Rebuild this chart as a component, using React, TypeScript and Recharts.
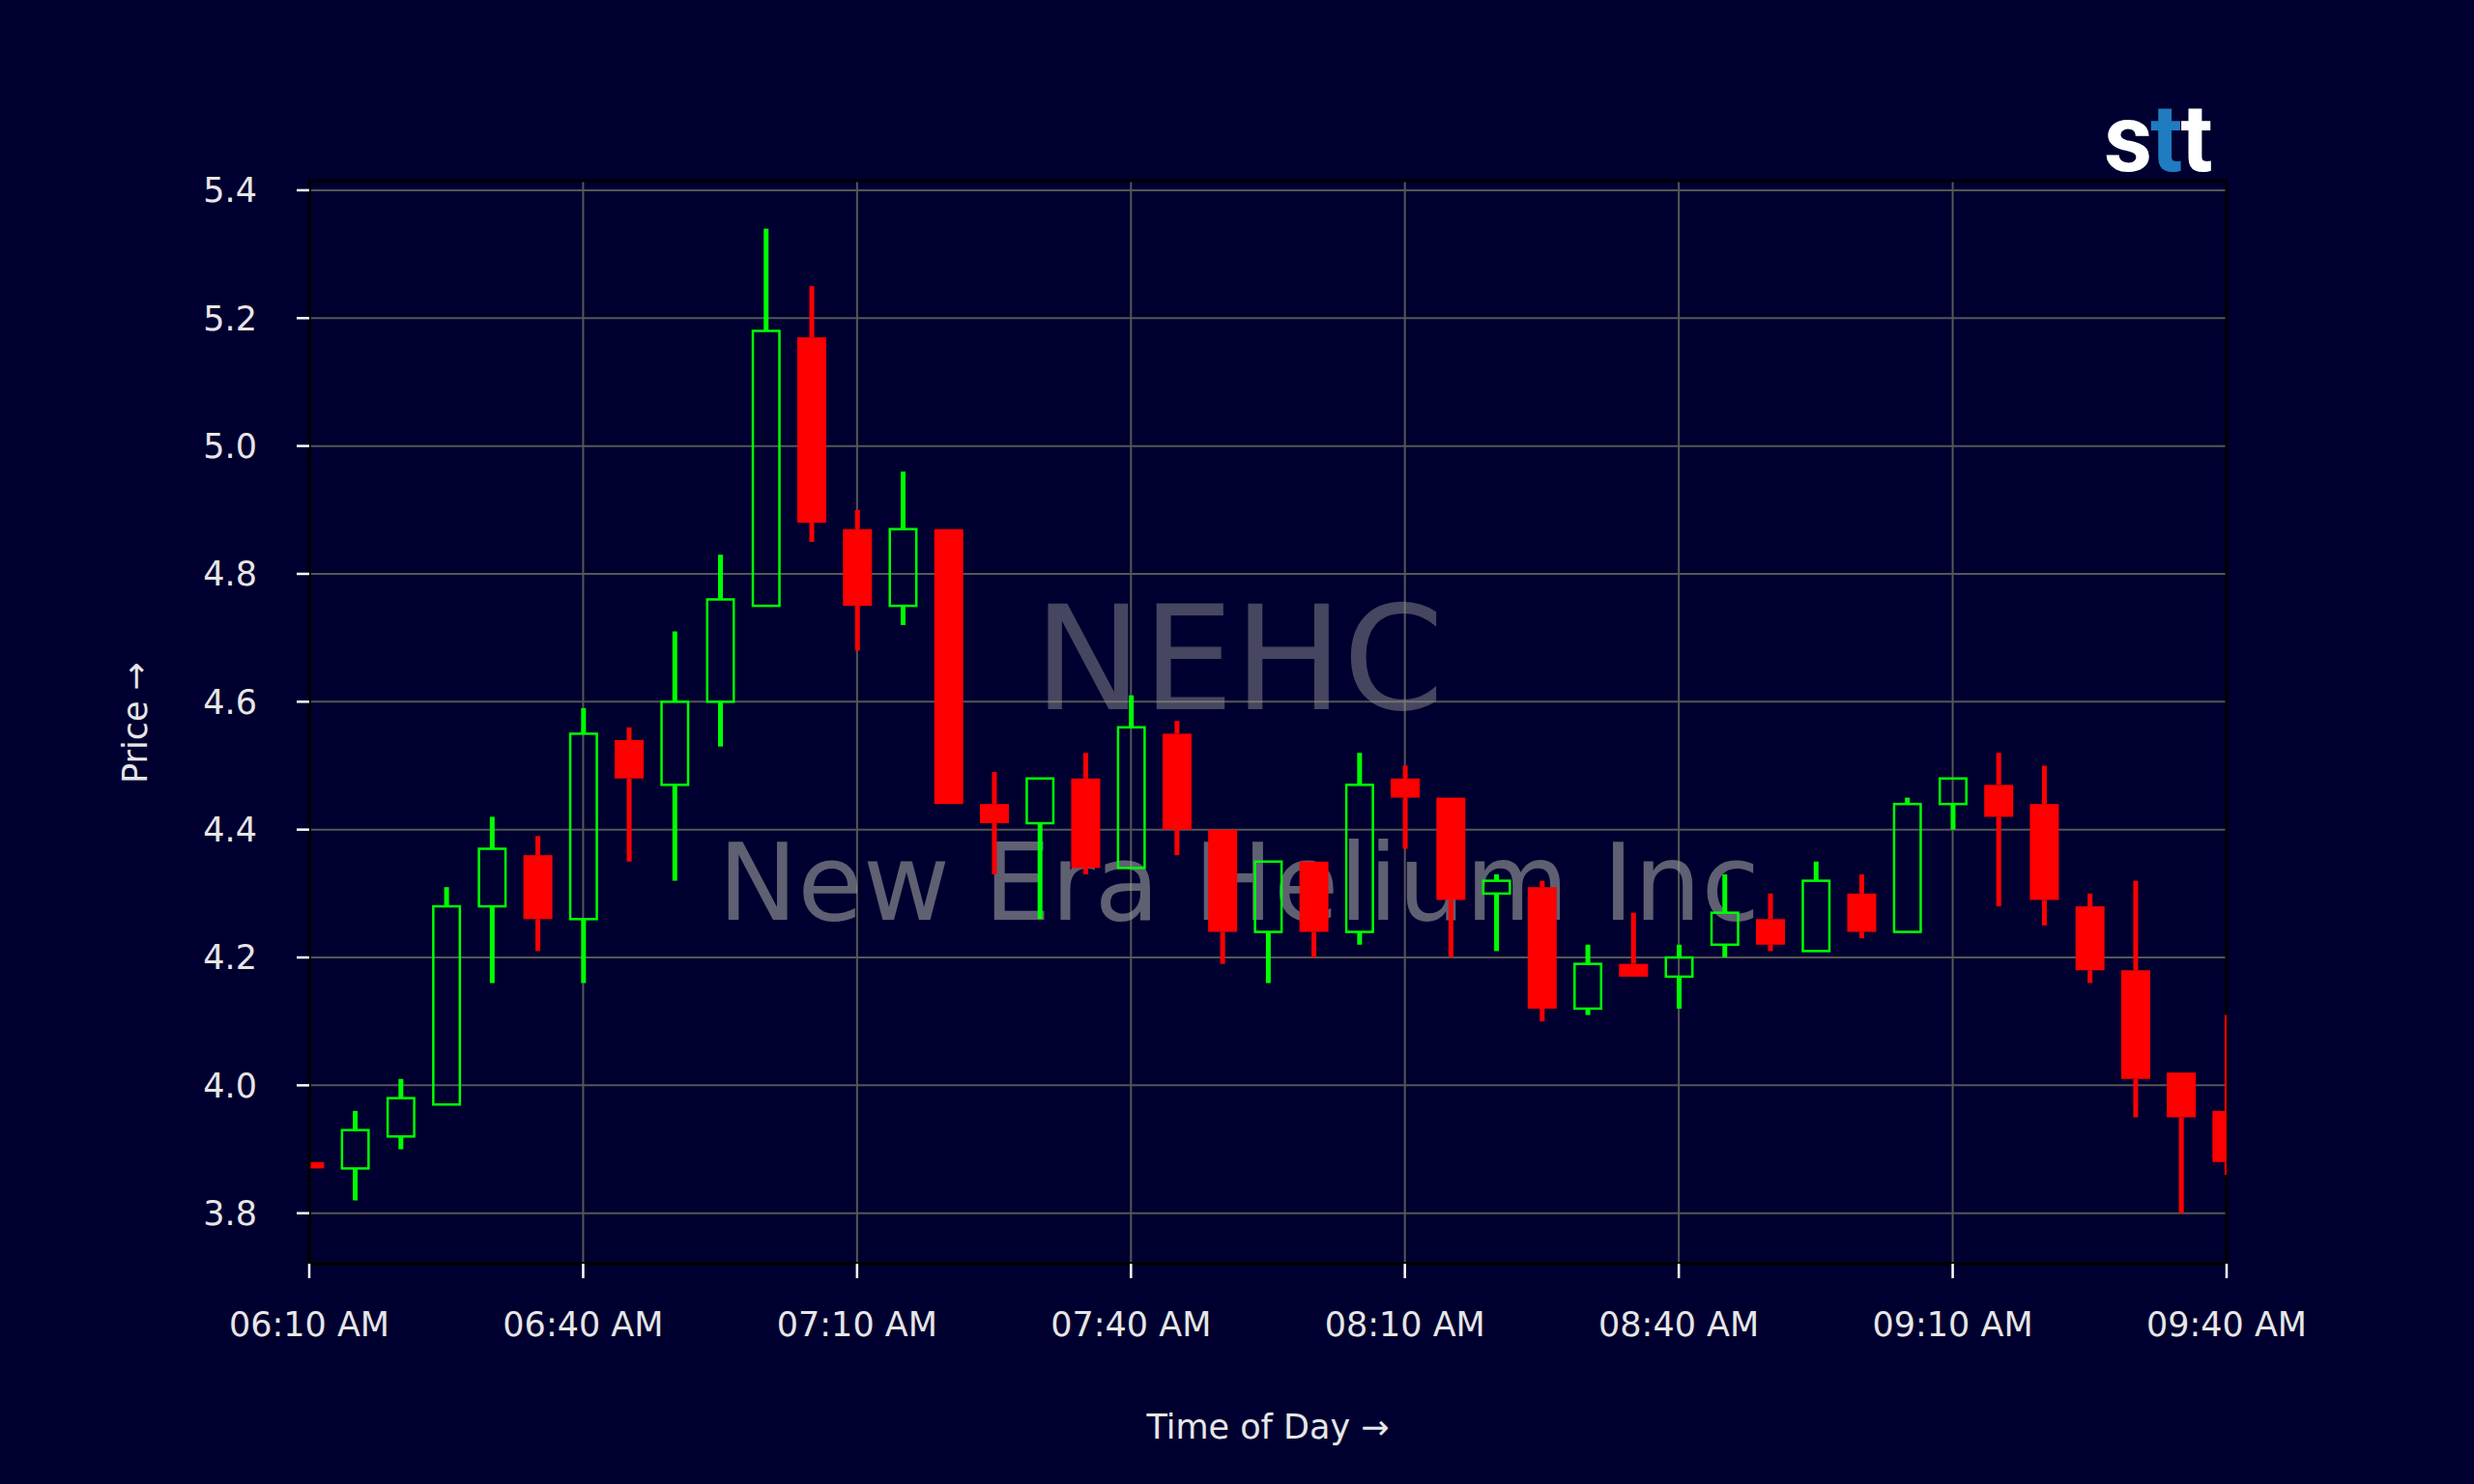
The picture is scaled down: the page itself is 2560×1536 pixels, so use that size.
import React from 'react';
import { ComposedChart, Bar, XAxis, YAxis, CartesianGrid, ReferenceArea } from 'recharts';

// 5-minute candles, NEHC
const times = [
  '06:10', '06:15', '06:20', '06:25', '06:30', '06:35', '06:40', '06:45', '06:50', '06:55',
  '07:00', '07:05', '07:10', '07:15', '07:20', '07:25', '07:30', '07:35', '07:40', '07:45',
  '07:50', '07:55', '08:00', '08:05', '08:10', '08:15', '08:20', '08:25', '08:30', '08:35',
  '08:40', '08:45', '08:50', '08:55', '09:00', '09:05', '09:10', '09:15', '09:20', '09:25',
  '09:30', '09:35', '09:40',
];
const opens = [
  3.88, 3.87, 3.92, 3.97, 4.28, 4.36, 4.26, 4.54, 4.47, 4.60,
  4.75, 5.17, 4.87, 4.75, 4.87, 4.44, 4.41, 4.48, 4.34, 4.55,
  4.40, 4.24, 4.35, 4.24, 4.48, 4.45, 4.30, 4.31, 4.12, 4.19,
  4.17, 4.22, 4.26, 4.21, 4.30, 4.24, 4.44, 4.47, 4.44, 4.28,
  4.18, 4.02, 3.96,
];
const highs = [
  3.88, 3.96, 4.01, 4.31, 4.42, 4.39, 4.59, 4.56, 4.71, 4.83,
  5.34, 5.25, 4.90, 4.96, 4.87, 4.49, 4.48, 4.52, 4.61, 4.57,
  4.40, 4.35, 4.35, 4.52, 4.50, 4.45, 4.33, 4.32, 4.22, 4.27,
  4.22, 4.33, 4.30, 4.35, 4.33, 4.45, 4.48, 4.52, 4.50, 4.30,
  4.32, 4.02, 4.11,
];
const lows = [
  3.87, 3.82, 3.90, 3.97, 4.16, 4.21, 4.16, 4.35, 4.32, 4.53,
  4.75, 4.85, 4.68, 4.72, 4.44, 4.33, 4.26, 4.33, 4.34, 4.36,
  4.19, 4.16, 4.20, 4.22, 4.37, 4.20, 4.21, 4.10, 4.11, 4.17,
  4.12, 4.20, 4.21, 4.21, 4.23, 4.24, 4.40, 4.28, 4.25, 4.16,
  3.95, 3.80, 3.86,
];
const closes = [
  3.87, 3.93, 3.98, 4.28, 4.37, 4.26, 4.55, 4.48, 4.60, 4.76,
  5.18, 4.88, 4.75, 4.87, 4.44, 4.41, 4.48, 4.34, 4.56, 4.40,
  4.24, 4.35, 4.24, 4.47, 4.45, 4.29, 4.32, 4.12, 4.19, 4.17,
  4.20, 4.27, 4.22, 4.32, 4.24, 4.44, 4.48, 4.42, 4.29, 4.18,
  4.01, 3.95, 3.88,
];

const xTicks = ['06:10', '06:40', '07:10', '07:40', '08:10', '08:40', '09:10', '09:40'];
const yTicks = [3.8, 4.0, 4.2, 4.4, 4.6, 4.8, 5.0, 5.2, 5.4];

const BG = '#000030';
const UP = '#00ff00';
const DOWN = '#ff0000';
const TEXT = '#e6e6e6';
const FONT = 'DejaVu Sans, sans-serif';

const toMin = (t: string) => {
  const [h, m] = t.split(':').map(Number);
  return h * 60 + m;
};

const fmtTime = (v: number) => {
  const h = Math.floor(v / 60);
  const m = v % 60;
  const hh = h % 12 === 0 ? 12 : h % 12;
  return `${String(hh).padStart(2, '0')}:${String(m).padStart(2, '0')} ${h < 12 ? 'AM' : 'PM'}`;
};

const data = times.map((t, i) => ({
  t: toMin(t),
  open: opens[i],
  high: highs[i],
  low: lows[i],
  close: closes[i],
}));

// body and wicks are placed from the bar's own [low, high] pixel range
function Candle(props: any) {
  const { x, y, width, height, payload } = props;
  if (x == null || y == null) return null;
  const { open, close, high, low } = payload;
  const top = Math.min(y, y + height);
  const h = Math.abs(height);
  const ratio = h / (high - low);
  const py = (v: number) => top + (high - v) * ratio;
  const cx = x + width / 2;
  const up = close >= open;
  const color = up ? UP : DOWN;
  const bTop = py(Math.max(open, close));
  const bBot = py(Math.min(open, close));
  const wick = 5;

  return (
    <g>
      {bTop > top + 0.5 && (
        <rect x={cx - wick / 2} y={top} width={wick} height={bTop - top} fill={color} />
      )}
      {top + h > bBot + 0.5 && (
        <rect x={cx - wick / 2} y={bBot} width={wick} height={top + h - bBot} fill={color} />
      )}
      {up ? (
        <rect
          x={x + 1.25}
          y={bTop}
          width={width - 2.5}
          height={Math.max(bBot - bTop, 1)}
          fill="none"
          stroke={color}
          strokeWidth={2.5}
        />
      ) : (
        <rect x={x} y={bTop} width={width} height={Math.max(bBot - bTop, 2)} fill={color} />
      )}
    </g>
  );
}

export default function App() {
  return (
    <div style={{ position: 'absolute', left: 0, top: 0, width: 2560, height: 1536, background: BG }}>
      <ComposedChart
        width={2560}
        height={1536}
        data={data}
        margin={{ top: 187, right: 256, bottom: 128, left: 0 }}
        style={{ background: BG }}
      >
        <CartesianGrid stroke="#565656" strokeWidth={2} />
        <XAxis
          dataKey="t"
          type="number"
          domain={[toMin('06:10'), toMin('09:40')]}
          allowDataOverflow
          ticks={xTicks.map(toMin)}
          tickFormatter={fmtTime}
          height={100}
          tickSize={15}
          tickMargin={35}
          axisLine={{ stroke: '#000', strokeWidth: 3 }}
          tickLine={{ stroke: '#fff', strokeWidth: 2.5 }}
          tick={{ fill: TEXT, fontSize: 35, fontFamily: FONT }}
        />
        <YAxis
          type="number"
          domain={[3.721, 5.415]}
          allowDataOverflow
          ticks={yTicks}
          tickFormatter={(v: number) => v.toFixed(1)}
          width={320}
          tickSize={13}
          tickMargin={41}
          axisLine={{ stroke: '#000', strokeWidth: 3 }}
          tickLine={{ stroke: '#fff', strokeWidth: 2.5 }}
          tick={{ fill: TEXT, fontSize: 35, fontFamily: FONT }}
        />
        <Bar
          dataKey={(d: any) => [d.low, d.high]}
          barSize={30}
          shape={<Candle />}
          isAnimationActive={false}
        />
        <ReferenceArea
          x1={toMin('06:10')}
          x2={toMin('09:40')}
          y1={3.721}
          y2={5.415}
          fill="none"
          stroke="#000"
          strokeWidth={3}
          ifOverflow="visible"
        />
        <text x={1282} y={734} textAnchor="middle" fontSize={150} fontFamily={FONT} fill="#999999" fillOpacity={0.46}>
          NEHC
        </text>
        <text x={1282} y={952} textAnchor="middle" fontSize={110} fontFamily={FONT} fill="#a0a0a0" fillOpacity={0.6}>
          New Era Helium Inc
        </text>
        <text x={1312} y={1489} textAnchor="middle" fontSize={35} fontFamily={FONT} fill={TEXT}>
          Time of Day →
        </text>
        <text
          x={152}
          y={748}
          textAnchor="middle"
          fontSize={35}
          fontFamily={FONT}
          fill={TEXT}
          transform="rotate(-90, 152, 748)"
        >
          Price →
        </text>
        <text x={2177} y={177} fontSize={98} fontWeight={700} fontFamily="Roboto, sans-serif" letterSpacing={-2}>
          <tspan fill="#ffffff">s</tspan>
          <tspan fill="#1f7cc1">t</tspan>
          <tspan fill="#ffffff">t</tspan>
        </text>
      </ComposedChart>
    </div>
  );
}
